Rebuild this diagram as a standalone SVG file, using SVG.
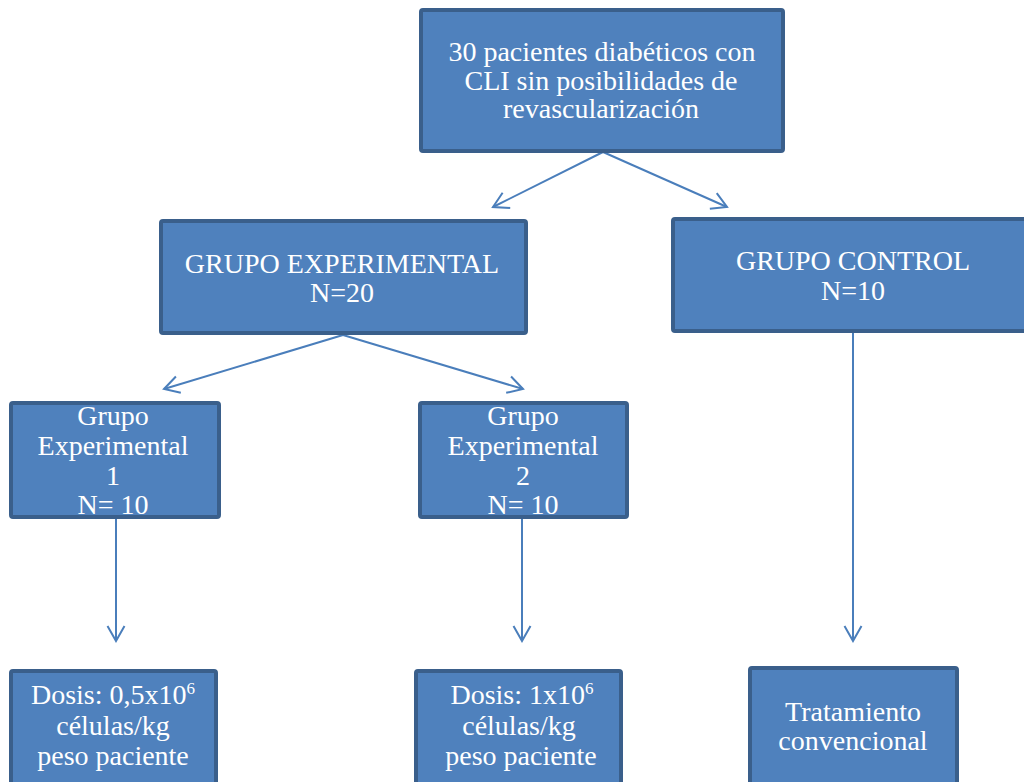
<svg xmlns="http://www.w3.org/2000/svg" width="1024" height="782" viewBox="0 0 1024 782">
<defs>
<style>
.box{fill:#4f81bd;stroke:#3a5f8b;stroke-width:4}
.t{font-family:"Liberation Serif","Times New Roman","DejaVu Serif",serif;font-size:28px;fill:#ffffff;text-anchor:middle}
.c{stroke:#4a7ebb;stroke-width:2;fill:none}
</style>
<marker id="ah" viewBox="0 0 20 20" refX="18" refY="10" markerWidth="20" markerHeight="20" markerUnits="userSpaceOnUse" orient="auto">
<path d="M3,1.5 L18,10 L3,18.5" fill="none" stroke="#4a7ebb" stroke-width="2"/>
</marker>
</defs>
<rect width="1024" height="782" fill="#ffffff"/>
<g id="connectors">
<line class="c" x1="603" y1="152" x2="493" y2="207" marker-end="url(#ah)"/>
<line class="c" x1="603" y1="152" x2="727" y2="207" marker-end="url(#ah)"/>
<line class="c" x1="343" y1="335" x2="164" y2="389" marker-end="url(#ah)"/>
<line class="c" x1="343" y1="335" x2="523" y2="389" marker-end="url(#ah)"/>
<line class="c" x1="116" y1="518" x2="116" y2="641" marker-end="url(#ah)"/>
<line class="c" x1="522" y1="518" x2="522" y2="641" marker-end="url(#ah)"/>
<line class="c" x1="853" y1="332" x2="853" y2="641" marker-end="url(#ah)"/>
</g>
<g id="n-top">
<rect class="box" x="421" y="10" width="362" height="141" rx="2"/>
<text class="t" x="602" y="61">30 pacientes diabéticos con</text>
<text class="t" x="601" y="90">CLI sin posibilidades de</text>
<text class="t" x="601" y="118">revascularización</text>
</g>
<g id="n-exp">
<rect class="box" x="161" y="221" width="365" height="112" rx="2"/>
<text class="t" x="342" y="273">GRUPO EXPERIMENTAL</text>
<text class="t" x="342" y="302">N=20</text>
</g>
<g id="n-ctrl">
<rect class="box" x="673" y="219" width="360" height="112" rx="2"/>
<text class="t" x="853" y="270">GRUPO CONTROL</text>
<text class="t" x="853" y="300">N=10</text>
</g>
<g id="n-exp1">
<rect class="box" x="11" y="403" width="208" height="114" rx="2"/>
<text class="t" x="113" y="425">Grupo</text>
<text class="t" x="113" y="455">Experimental</text>
<text class="t" x="113" y="485">1</text>
<text class="t" x="113" y="514">N= 10</text>
</g>
<g id="n-exp2">
<rect class="box" x="420" y="403" width="207" height="114" rx="2"/>
<text class="t" x="523" y="425">Grupo</text>
<text class="t" x="523" y="455">Experimental</text>
<text class="t" x="523" y="485">2</text>
<text class="t" x="523" y="514">N= 10</text>
</g>
<g id="n-dosis1">
<rect class="box" x="11" y="671" width="205" height="120" rx="2"/>
<text class="t" x="113" y="704">Dosis: 0,5x10<tspan font-size="17" dy="-10">6</tspan></text>
<text class="t" x="113" y="735">células/kg</text>
<text class="t" x="113" y="765">peso paciente</text>
</g>
<g id="n-dosis2">
<rect class="box" x="416" y="671" width="205" height="120" rx="2"/>
<text class="t" x="522" y="704">Dosis: 1x10<tspan font-size="17" dy="-10">6</tspan></text>
<text class="t" x="519" y="735">células/kg</text>
<text class="t" x="521" y="765">peso paciente</text>
</g>
<g id="n-trat">
<rect class="box" x="750" y="668" width="207" height="122" rx="2"/>
<text class="t" x="853" y="721">Tratamiento</text>
<text class="t" x="853" y="750">convencional</text>
</g>
</svg>
